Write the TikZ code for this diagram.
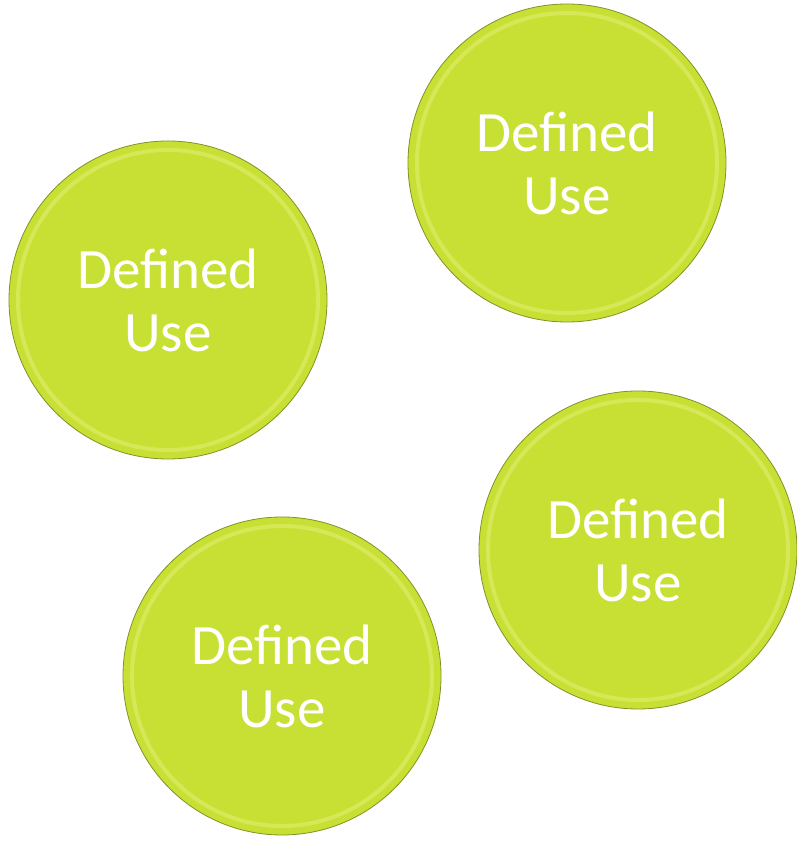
\documentclass[tikz,border=0pt]{standalone}
\usepackage{fontspec}
\setmainfont{Carlito}
\usetikzlibrary{shapes.geometric}

\definecolor{lime}{RGB}{200,224,52}
\definecolor{limerim}{RGB}{214,232,88}
\definecolor{limeedge}{RGB}{130,145,40}

\begin{document}
\begin{tikzpicture}[x=1pt,y=1pt, disc/.style={circle, draw=limeedge, line width=0.8pt,
            fill=lime, minimum size=318pt, inner sep=0pt, text=white, align=center,
            font=\fontsize{57}{63}\selectfont,
            path picture={\draw[limerim, line width=4pt]
              (path picture bounding box.center) circle (150pt);}}]

          \useasboundingbox (0,0) rectangle (797,843);
          \node[disc] (1) at (567,680) {Defined\\Use};
          \node[disc] (2) at (168,543) {Defined\\Use};
          \node[disc] (3) at (638,293) {Defined\\Use};
          \node[disc] (4) at (282,167) {Defined\\Use};
        \end{tikzpicture}
\end{document}
